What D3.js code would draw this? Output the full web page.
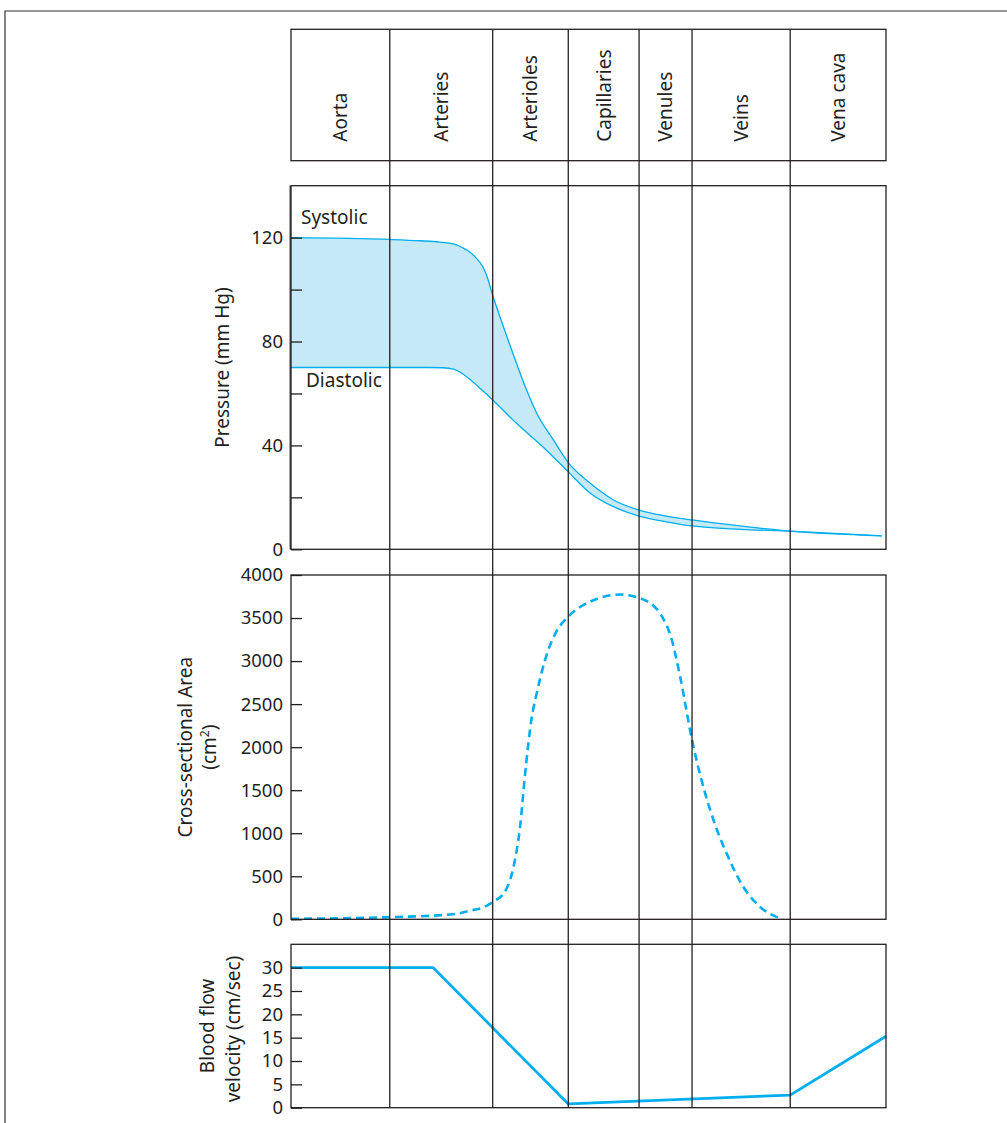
<!DOCTYPE html>
<html>
<head>
<meta charset="utf-8">
<script src="https://cdn.jsdelivr.net/npm/d3@7"></script>
<style>
  html, body { margin: 0; padding: 0; background: #fff; }
  svg { display: block; }
  text { font-family: "Noto Sans", "Open Sans", sans-serif; fill: #231f20; }
</style>
</head>
<body>
<svg id="chart" width="1007" height="1123"></svg>
<script>
// ---------- DATA ----------
const categories = ["Aorta", "Arteries", "Arterioles", "Capillaries", "Venules", "Veins", "Vena cava"];
// boundaries of each vessel segment along the circulation (percent of path)
const categoryBounds = [0, 16.6, 33.9, 46.6, 58.5, 67.4, 83.9, 100];

// Pressure (mm Hg) : [position, value]
const systolic = [[0,120],[16.6,119.3],[21.7,118.8],[25.0,118.3],[27.3,117.6],[28.7,116.3],[30.1,114.4],
  [31.1,112.2],[32.1,109.3],[32.9,105.3],[33.9,97.8],[35.7,85.7],[37.9,71.6],[39.6,61.3],[41.3,52.4],
  [44.1,42.1],[46.6,33.4],[50.3,25.4],[54.2,19.0],[58.5,15.1],[63.1,12.8],[67.4,11.3],[75.5,9.0],
  [83.9,7.0],[99.3,5.2]];
const diastolic = [[0,70],[16.6,70],[23.0,70],[25.5,69.9],[27.3,69.4],[28.7,67.8],[30.1,65.4],
  [32.0,61.5],[33.9,57.5],[37.9,48.5],[42.4,39.3],[46.6,29.8],[50.3,21.6],[54.2,16.4],[58.5,12.8],
  [63.1,10.6],[67.4,9.0],[75.5,7.7],[83.9,7.0],[99.3,5.2]];
const pressureTicks = [0, 20, 40, 60, 80, 100, 120];
const pressureLabels = [0, 40, 80, 120];

// Cross-sectional area (cm^2)
const area = [[0,5],[16.6,25],[27.2,58],[30.6,108],[31.9,128],[33.9,200],[36.1,340],[37.4,610],
  [38.5,1076],[39.3,1657],[40.4,2316],[41.3,2626],[42.7,3013],[44.6,3343],[46.6,3517],[50.3,3691],
  [55.3,3773],[58.5,3734],[62.0,3556],[64.0,3245],[65.4,2819],[67.4,2083],[68.7,1696],[71.0,1154],
  [73.2,767],[76.0,379],[78.8,146],[82.2,12]];
const areaTicks = [0, 500, 1000, 1500, 2000, 2500, 3000, 3500, 4000];

// Blood flow velocity (cm/sec)
const velocity = [[0,30],[23.9,30],[46.6,0.8],[83.9,2.7],[100,15.3]];
const velocityTicks = [0, 5, 10, 15, 20, 25, 30];

// ---------- LAYOUT ----------
const svg = d3.select("#chart");
const left = 291, right = 886;
const header = {top: 29.3, bottom: 160.7};
const pP = {top: 185.7, bottom: 549.3};
const aP = {top: 575, bottom: 919.3};
const vP = {top: 944.3, bottom: 1107.7};
const ink = "#231f20";
const blue = "#00aeef";
const fs = 18.5;

const x = d3.scaleLinear().domain([0, 100]).range([left, right]);
const yP = d3.scaleLinear().domain([0, 140]).range([pP.bottom, pP.top]);
const yA = d3.scaleLinear().domain([0, 4000]).range([aP.bottom, aP.top]);
const yV = d3.scaleLinear().domain([0, 35]).range([vP.bottom, vP.top]);

// outer page frame
svg.append("path").attr("d", `M5,1123V11H1007`).attr("fill", "none")
  .attr("stroke", "#333").attr("stroke-width", 1.2);

// ---------- PRESSURE BAND ----------
const pLine = d3.line().x(d => x(d[0])).y(d => yP(d[1])).curve(d3.curveMonotoneX);
const sysPath = pLine(systolic);
const diaRevPath = pLine(diastolic.slice().reverse());
svg.append("path")
  .attr("d", sysPath + "L" + diaRevPath.slice(1) + "Z")
  .attr("fill", "#c6e9f8").attr("stroke", "none");
svg.append("path").attr("d", sysPath).attr("fill", "none").attr("stroke", blue).attr("stroke-width", 1.3);
svg.append("path").attr("d", pLine(diastolic)).attr("fill", "none").attr("stroke", blue).attr("stroke-width", 1.3);

// ---------- AREA CURVE ----------
svg.append("path")
  .attr("d", d3.line().x(d => x(d[0])).y(d => yA(d[1])).curve(d3.curveMonotoneX)(area))
  .attr("fill", "none").attr("stroke", blue).attr("stroke-width", 2.6)
  .attr("stroke-dasharray", "8,5");

// ---------- VELOCITY LINE ----------
svg.append("path")
  .attr("d", d3.line().x(d => x(d[0])).y(d => yV(d[1]))(velocity))
  .attr("fill", "none").attr("stroke", blue).attr("stroke-width", 2.8)
  .attr("stroke-linejoin", "round");

// ---------- FRAMES ----------
function frame(p) {
  svg.append("rect").attr("x", left).attr("y", p.top)
    .attr("width", right - left).attr("height", p.bottom - p.top)
    .attr("fill", "none").attr("stroke", ink).attr("stroke-width", 1.3);
}
frame(header); frame(pP); frame(aP); frame(vP);

// interior vertical separators spanning the whole figure
svg.append("g").selectAll("line").data(categoryBounds.slice(1, -1)).join("line")
  .attr("x1", d => x(d)).attr("x2", d => x(d))
  .attr("y1", header.top).attr("y2", vP.bottom)
  .attr("stroke", ink).attr("stroke-width", 1.3);

// ---------- HEADER LABELS ----------
svg.append("g").selectAll("text").data(categories).join("text")
  .attr("transform", (d, i) => `translate(${x((categoryBounds[i] + categoryBounds[i + 1]) / 2)},141.7) rotate(-90)`)
  .attr("dy", "0.36em")
  .attr("font-size", 19)
  .text(d => d);

// ---------- AXES ----------
function yAxis(scale, ticks, fmt) {
  const g = svg.append("g").attr("transform", `translate(${left},0)`)
    .call(d3.axisLeft(scale).tickValues(ticks).tickSizeInner(-11).tickSizeOuter(0).tickPadding(8).tickFormat(fmt));
  g.select(".domain").remove();
  g.selectAll(".tick line").attr("stroke", ink).attr("stroke-width", 1.3);
  g.selectAll(".tick text").attr("font-size", fs).attr("font-family", '"Noto Sans", sans-serif').attr("fill", ink);
  return g;
}
yAxis(yP, pressureTicks, d => pressureLabels.includes(d) ? d : "");
yAxis(yA, areaTicks, d => d);
yAxis(yV, velocityTicks, d => d);

// thicker left edge of pressure panel
svg.append("line").attr("x1", left - 0.8).attr("x2", left - 0.8).attr("y1", pP.top).attr("y2", pP.bottom)
  .attr("stroke", ink).attr("stroke-width", 1.2);

// ---------- AXIS TITLES ----------
function vtext(xb, yc, str) {
  return svg.append("text").attr("transform", `translate(${xb},${yc}) rotate(-90)`)
    .attr("text-anchor", "middle").attr("font-size", 19).text(str);
}
vtext(229, (pP.top + pP.bottom) / 2, "Pressure (mm Hg)");
vtext(191.5, (aP.top + aP.bottom) / 2, "Cross-sectional Area");
const cm = vtext(216, (aP.top + aP.bottom) / 2, "(cm");
cm.append("tspan").attr("font-size", 12).attr("dy", "-0.6em").text("2");
cm.append("tspan").attr("dy", "0.38em").text(")");
vtext(214, 1026, "Blood flow");
vtext(239.5, 1029, "velocity (cm/sec)");

// band labels
svg.append("text").attr("x", 301).attr("y", 224).attr("font-size", 19).text("Systolic");
svg.append("text").attr("x", 306).attr("y", 387.3).attr("font-size", 19).text("Diastolic");
</script>
</body>
</html>
